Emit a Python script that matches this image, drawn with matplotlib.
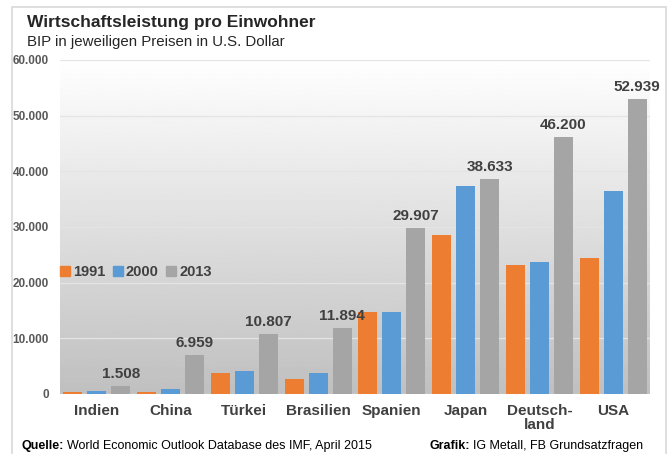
import numpy as np
import matplotlib.pyplot as plt
from matplotlib.patches import Rectangle
from matplotlib.lines import Line2D

plt.rcParams['font.family'] = ['Liberation Sans', 'DejaVu Sans']

# BIP pro Kopf, US-Dollar
laender = ['Indien', 'China', 'Türkei', 'Brasilien', 'Spanien', 'Japan', 'Deutsch-\nland', 'USA']
jahre = ['1991', '2000', '2013']
bip_1991 = [310, 350, 3780, 2750, 14750, 28600, 23200, 24400]
bip_2000 = [450, 950, 4050, 3780, 14800, 37300, 23700, 36450]
bip_2013 = [1508, 6959, 10807, 11894, 29907, 38633, 46200, 52939]
y_ticks = [0, 10000, 20000, 30000, 40000, 50000, 60000]

farben = ['#ED7D31', '#5B9BD5', '#A5A5A5']
text_farbe = '#404040'

def tausender(v):
    return f'{v:,.0f}'.replace(',', '.')

fig = plt.figure(figsize=(6.71, 4.54), dpi=100)
fig.patch.set_facecolor('white')

# heller Rahmen um die Grafik
fig.patches.append(Rectangle((12 / 671, -0.02), 654 / 671, 1 - 7 / 454 + 0.02,
                             transform=fig.transFigure, fill=False,
                             edgecolor='#d9d9d9', linewidth=1.2))

ax = fig.add_axes([60 / 671, 1 - 394 / 454, 590 / 671, 334 / 454])

x = np.arange(len(laender))
breite = 0.26
abstand = 0.325

ax.set_xlim(-0.5, len(laender) - 0.5)
ax.set_ylim(0, 60000)

# Hintergrund mit Verlauf von weiß nach grau
verlauf = np.linspace(1.0, 0.75, 256).reshape(-1, 1)
ax.imshow(verlauf, cmap='gray', vmin=0, vmax=1, aspect='auto',
          extent=(-0.5, len(laender) - 0.5, 0, 60000), origin='upper', zorder=0)

for t in y_ticks:
    ax.axhline(t, color='#e4e4e4', linewidth=0.9, zorder=1)

for i, (werte, farbe) in enumerate(zip([bip_1991, bip_2000, bip_2013], farben)):
    ax.bar(x + (i - 1) * abstand, werte, width=breite, color=farbe, zorder=2)

for xi, v in zip(x, bip_2013):
    ax.text(xi + abstand, v + 900, tausender(v), ha='center', va='bottom',
            fontsize=11, fontweight='bold', color=text_farbe, zorder=3)

ax.set_xticks(x)
ax.set_xticklabels(laender, fontsize=11, fontweight='bold', color=text_farbe,
                   linespacing=1.0)
ax.set_yticks(y_ticks)
ax.set_yticklabels([tausender(t) for t in y_ticks], fontsize=8.5,
                   fontweight='bold', color='#595959')
ax.tick_params(axis='both', length=0)
ax.tick_params(axis='x', pad=7)
ax.tick_params(axis='y', pad=8)
for s in ax.spines.values():
    s.set_visible(False)

handles = [Line2D([], [], marker='s', linestyle='none', markersize=7,
                  markerfacecolor=f, markeredgecolor=f) for f in farben]
leg = ax.legend(handles, jahre, loc='center left', bbox_to_anchor=(0.0, 0.365),
                ncol=3, frameon=False, handlelength=0.7, handletextpad=0.2,
                columnspacing=0.5, borderaxespad=0, borderpad=0,
                prop={'size': 10.5, 'weight': 'bold'})
for t in leg.get_texts():
    t.set_color(text_farbe)

fig.text(27 / 671, 1 - 22 / 454, 'Wirtschaftsleistung pro Einwohner',
         fontsize=12.5, fontweight='bold', color='#262626', va='center')
fig.text(27 / 671, 1 - 42 / 454, 'BIP in jeweiligen Preisen in U.S. Dollar',
         fontsize=10.8, color='#262626', va='center')

# Fußzeile: fetter Begriff, danach normaler Text
def fusszeile(x0, fett, rest):
    t = fig.text(x0 / 671, 1 - 446 / 454, fett, fontsize=9, fontweight='bold',
                 color='black', va='center')
    ax.annotate(rest, xy=(1, 0.5), xycoords=t, xytext=(2, 0),
                textcoords='offset points', va='center', fontsize=9,
                color='black', annotation_clip=False)

fusszeile(22, 'Quelle:', 'World Economic Outlook Database des IMF, April 2015')
fusszeile(430, 'Grafik:', 'IG Metall, FB Grundsatzfragen')

fig.savefig('out.png', dpi=100)
